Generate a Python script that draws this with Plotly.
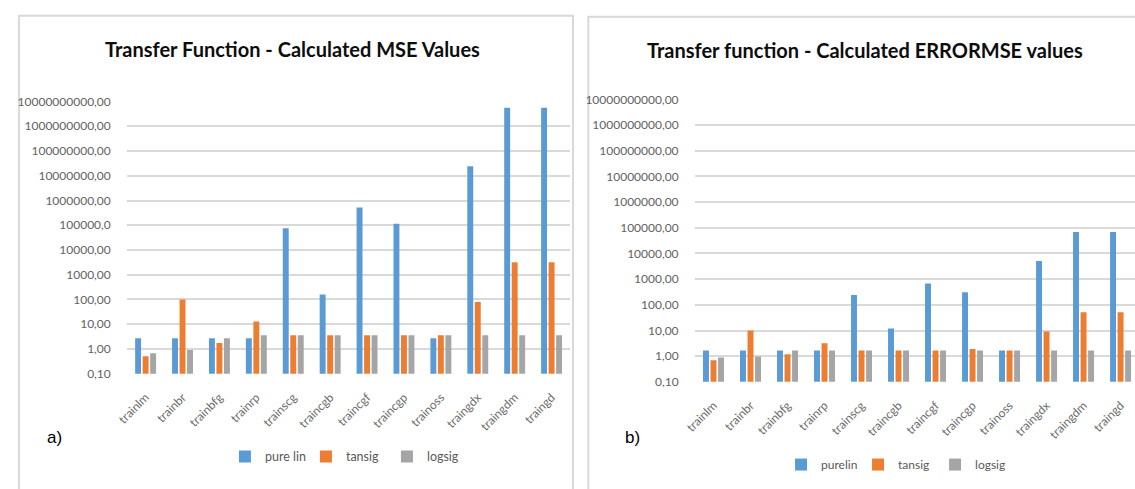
import plotly.graph_objects as go

# Training algorithms (x categories)
algorithms = ["trainlm", "trainbr", "trainbfg", "trainrp", "trainscg", "traincgb",
              "traincgf", "traincgp", "trainoss", "traingdx", "traingdm", "traingd"]

# Panel a) - calculated MSE values per transfer function
mse_purelin = [2.7, 2.7, 2.7, 2.7, 76000, 158, 525000, 115000, 2.7, 2.4e7, 5.6e9, 5.6e9]
mse_tansig = [0.51, 100, 1.74, 13, 3.6, 3.6, 3.6, 3.6, 3.6, 80, 3200, 3200]
mse_logsig = [0.68, 0.92, 2.7, 3.6, 3.6, 3.6, 3.6, 3.6, 3.6, 3.6, 3.6, 3.6]

# Panel b) - calculated ERRORMSE values per transfer function
err_purelin = [1.67, 1.67, 1.67, 1.67, 243, 11.9, 670, 308, 1.67, 5100, 69000, 69000]
err_tansig = [0.70, 10, 1.18, 3.2, 1.67, 1.67, 1.67, 1.9, 1.67, 9.2, 51, 51]
err_logsig = [0.88, 0.97, 1.67, 1.67, 1.67, 1.67, 1.67, 1.67, 1.67, 1.67, 1.67, 1.67]

series_names_a = ["pure lin", "tansig", "logsig"]
series_names_b = ["purelin", "tansig", "logsig"]
series_colors = ["#5B9BD5", "#ED7D31", "#A5A5A5"]

tick_vals = [0.1, 1, 10, 100, 1e3, 1e4, 1e5, 1e6, 1e7, 1e8, 1e9, 1e10]
tick_text_a = ["0,10", "1,00", "10,00", "100,00", "1000,00", "10000,00", "100000,0",
               "1000000,00", "10000000,00", "100000000,00", "1000000000,00", "10000000000,00"]
tick_text_b = ["0,10", "1,00", "10,00", "100,00", "1000,00", "10000,00", "100000,00",
               "1000000,00", "10000000,00", "100000000,00", "1000000000,00", "10000000000,00"]

W, H = 1135, 489
def px(x):
    return x / W
def py(y):
    return 1 - y / H

fig = go.Figure()

for name, vals, color in zip(series_names_a, [mse_purelin, mse_tansig, mse_logsig], series_colors):
    fig.add_trace(go.Bar(x=algorithms, y=vals, name=name, marker_color=color,
                         marker_line_width=0, xaxis="x", yaxis="y", legend="legend"))
for name, vals, color in zip(series_names_b, [err_purelin, err_tansig, err_logsig], series_colors):
    fig.add_trace(go.Bar(x=algorithms, y=vals, name=name, marker_color=color,
                         marker_line_width=0, xaxis="x2", yaxis="y2", legend="legend2"))

grid = "#D9D9D9"

common_x = dict(type="category", showgrid=False, showline=False, zeroline=False,
                tickangle=-45, tickfont=dict(family="Lato", size=12, color="#6b6b6b"),
                ticks="outside", ticklen=11, tickcolor="rgba(0,0,0,0)")
common_y = dict(type="log", range=[-1, 10], tickvals=tick_vals, showgrid=True,
                gridcolor=grid, gridwidth=1.6, showline=False, zeroline=False,
                tickfont=dict(family="Lato", size=12, color="#626262"),
                ticks="outside", ticklen=13, tickcolor="rgba(0,0,0,0)")

fig.update_layout(
    width=W, height=H,
    margin=dict(l=0, r=0, t=0, b=0),
    paper_bgcolor="white", plot_bgcolor="white",
    barmode="group", bargap=0.39, bargroupgap=0.21,
    xaxis=dict(common_x, domain=[px(116.4), px(564)], range=[-0.5, 11.5], anchor="y"),
    yaxis=dict(common_y, domain=[py(377.3), py(96.5)], ticktext=tick_text_a, anchor="x"),
    xaxis2=dict(common_x, domain=[px(690.3), 1.0], range=[-0.5, 11.39], anchor="y2"),
    yaxis2=dict(common_y, domain=[py(385.7), py(94.3)], ticktext=tick_text_b, anchor="x2"),
    legend=dict(orientation="h", x=px(338), y=py(463), xanchor="center", yanchor="middle",
                entrywidth=36, entrywidthmode="pixels",
                font=dict(family="Lato", size=12.5, color="#595959"), bgcolor="rgba(0,0,0,0)"),
    legend2=dict(orientation="h", x=px(894), y=py(471), xanchor="center", yanchor="middle",
                 entrywidth=32, entrywidthmode="pixels",
                 font=dict(family="Lato", size=12, color="#595959"), bgcolor="rgba(0,0,0,0)"),
    showlegend=True,
)

# Chart frames
border = dict(color="#D9D9D9", width=2)
fig.add_shape(type="rect", xref="paper", yref="paper", x0=px(7), x1=px(567),
              y0=-0.2, y1=py(8), line=border, fillcolor="rgba(0,0,0,0)", layer="below")
fig.add_shape(type="rect", xref="paper", yref="paper", x0=px(582.5), x1=1.2,
              y0=-0.2, y1=py(9), line=border, fillcolor="rgba(0,0,0,0)", layer="below")

title_font = dict(family="Lato", size=20, color="#0d0d0d")
fig.add_annotation(text="<b>Transfer Function - Calculated MSE Values</b>", xref="paper", yref="paper",
                   x=px(284), y=py(42), xanchor="center", yanchor="middle",
                   showarrow=False, font=title_font)
fig.add_annotation(text="<b>Transfer function - Calculated ERRORMSE values</b>", xref="paper", yref="paper",
                   x=px(862), y=py(43), xanchor="center", yanchor="middle",
                   showarrow=False, font=title_font)

panel_font = dict(family="Liberation Sans", size=17, color="#000000")
fig.add_annotation(text="a)", xref="paper", yref="paper", x=px(33), y=py(443),
                   xanchor="left", yanchor="middle", showarrow=False, font=panel_font)
fig.add_annotation(text="b)", xref="paper", yref="paper", x=px(618), y=py(443),
                   xanchor="left", yanchor="middle", showarrow=False, font=panel_font)

fig.write_html("out.html")
